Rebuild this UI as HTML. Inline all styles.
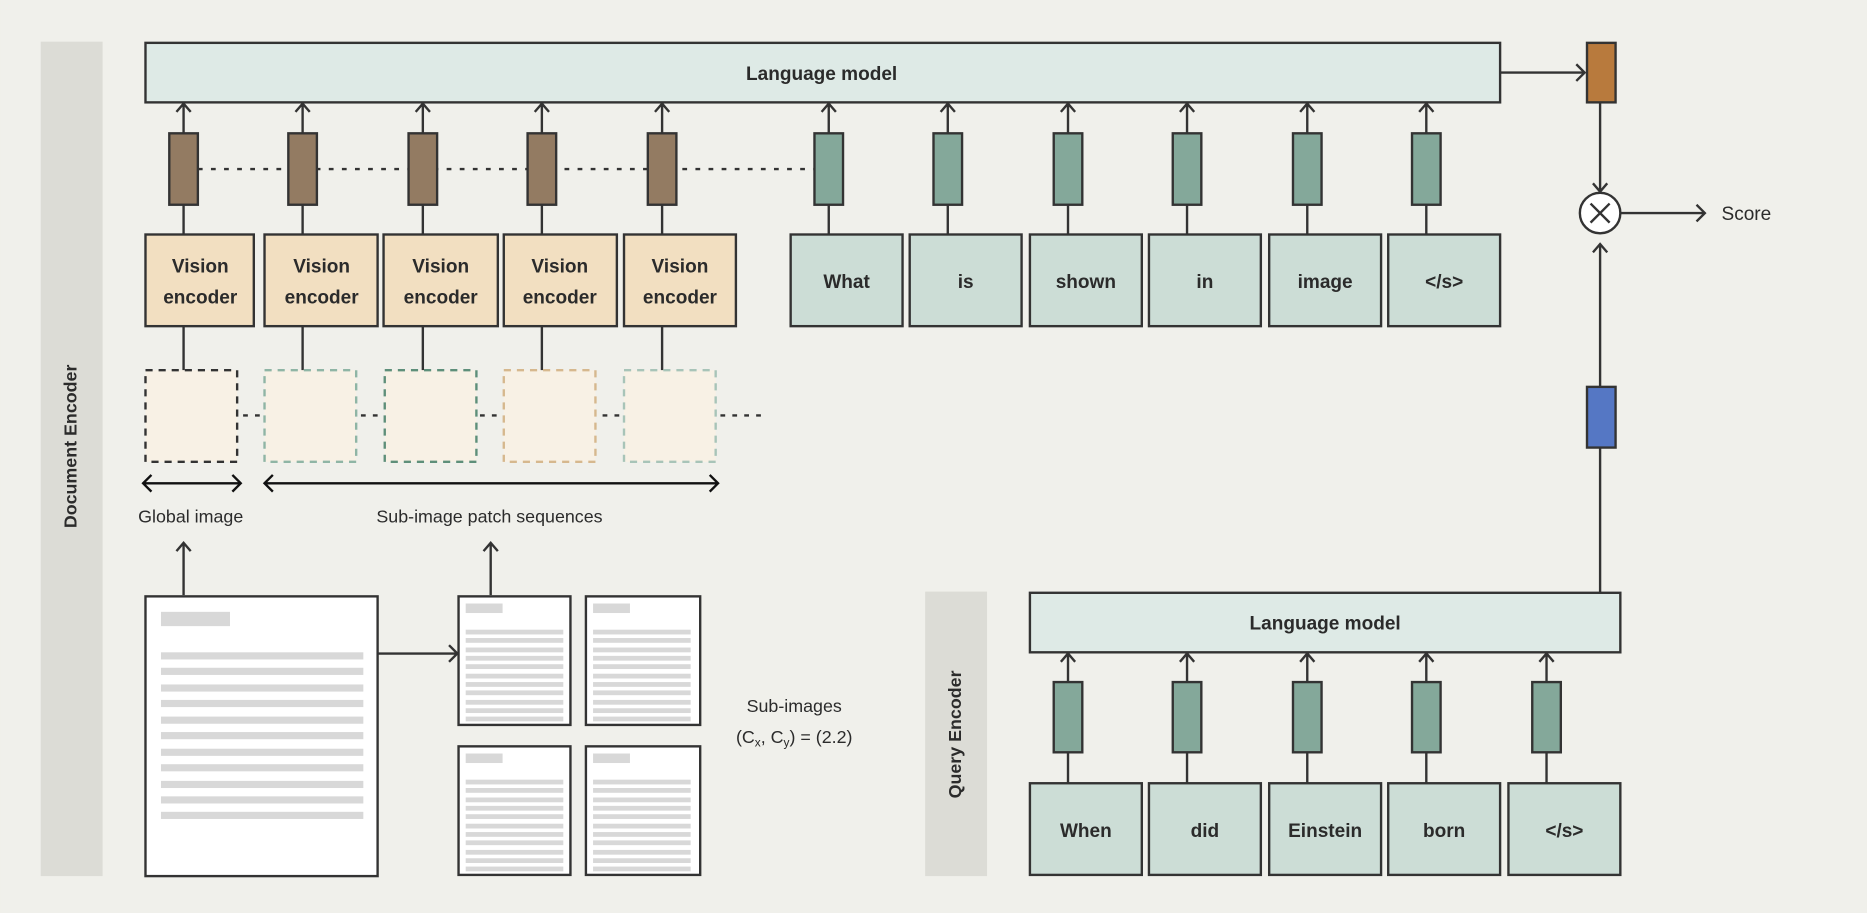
<!DOCTYPE html>
<html><head><meta charset="utf-8"><style>
html,body{margin:0;padding:0;background:#f0f0eb;}
svg{display:block;}
text{font-family:"Liberation Sans",sans-serif;fill:#2b2b2b;}
.b{font-weight:bold;}
</style></head><body>
<svg width="1867" height="913" viewBox="0 0 1568 767" xmlns="http://www.w3.org/2000/svg">
<rect width="1568" height="767" fill="#f0f0eb"/>
<g stroke="#333" stroke-width="2" fill="none">
<rect x="34" y="35" width="52" height="701" fill="#dcdcd6" stroke="none"/>
<rect x="777" y="497" width="52" height="239" fill="#dcdcd6" stroke="none"/>
<rect x="122" y="36" width="1138" height="50" fill="#deeae6"/>
<line x1="1260" y1="61" x2="1331" y2="61"/><polyline points="1324,54 1331,61 1324,68"/>
<rect x="1333" y="36" width="24" height="50" fill="#b87a3d"/>
<line x1="166" y1="142" x2="684" y2="142" stroke-dasharray="4,7"/>
<g fill="#937b62">
<rect x="142" y="112" width="24" height="60"/><rect x="242" y="112" width="24" height="60"/><rect x="343" y="112" width="24" height="60"/><rect x="443" y="112" width="24" height="60"/><rect x="544" y="112" width="24" height="60"/>
</g>
<g fill="#84a89a">
<rect x="684" y="112" width="24" height="60"/><rect x="784" y="112" width="24" height="60"/><rect x="885" y="112" width="24" height="60"/><rect x="985" y="112" width="24" height="60"/><rect x="1086" y="112" width="24" height="60"/><rect x="1186" y="112" width="24" height="60"/>
</g>
<g>
<path d="M154 112V87M148 94L154 87L160 94M154 172V197M154 274V311"/>
<path d="M254 112V87M248 94L254 87L260 94M254 172V197M254 274V311"/>
<path d="M355 112V87M349 94L355 87L361 94M355 172V197M355 274V311"/>
<path d="M455 112V87M449 94L455 87L461 94M455 172V197M455 274V311"/>
<path d="M556 112V87M550 94L556 87L562 94M556 172V197M556 274V311"/>
<path d="M696 112V87M690 94L696 87L702 94M696 172V197"/>
<path d="M796 112V87M790 94L796 87L802 94M796 172V197"/>
<path d="M897 112V87M891 94L897 87L903 94M897 172V197"/>
<path d="M997 112V87M991 94L997 87L1003 94M997 172V197"/>
<path d="M1098 112V87M1092 94L1098 87L1104 94M1098 172V197"/>
<path d="M1198 112V87M1192 94L1198 87L1204 94M1198 172V197"/>
</g>
<g fill="#f2dfc1">
<rect x="122" y="197" width="91" height="77"/><rect x="222" y="197" width="95" height="77"/><rect x="322" y="197" width="96" height="77"/><rect x="423" y="197" width="95" height="77"/><rect x="524" y="197" width="94" height="77"/>
</g>
<g fill="#ccddd6">
<rect x="664" y="197" width="94" height="77"/><rect x="764" y="197" width="94" height="77"/><rect x="865" y="197" width="94" height="77"/><rect x="965" y="197" width="94" height="77"/><rect x="1066" y="197" width="94" height="77"/><rect x="1166" y="197" width="94" height="77"/>
</g>
<g fill="#f8f1e5" stroke-dasharray="6,5">
<rect x="122" y="311" width="77" height="77" stroke="#333"/>
<rect x="222" y="311" width="77" height="77" stroke="#8fb5a5"/>
<rect x="323" y="311" width="77" height="77" stroke="#5e8f7a"/>
<rect x="423" y="311" width="77" height="77" stroke="#d6b88e"/>
<rect x="524" y="311" width="77" height="77" stroke="#a8c4b8"/>
</g>
<g stroke-dasharray="4,6">
<line x1="204" y1="349" x2="222" y2="349"/><line x1="303" y1="349" x2="323" y2="349"/><line x1="403" y1="349" x2="423" y2="349"/><line x1="506" y1="349" x2="524" y2="349"/><line x1="605" y1="349" x2="642" y2="349"/>
</g>
<path d="M121 406H201M127 399L120 406L127 413M195 399L202 406L195 413" stroke="#111"/>
<path d="M222 406H602M229 399L222 406L229 413M596 399L603 406L596 413" stroke="#111"/>
<path d="M154 500V456M148 463L154 456L160 463"/>
<path d="M412 500V456M406 463L412 456L418 463"/>
<rect x="122" y="501" width="195" height="235" fill="#fff"/>
<path d="M317 549H384M377 542L384 549L377 556"/>
<rect x="385" y="501" width="94" height="108" fill="#fff"/>
<rect x="492" y="501" width="96" height="108" fill="#fff"/>
<rect x="385" y="627" width="94" height="108" fill="#fff"/>
<rect x="492" y="627" width="96" height="108" fill="#fff"/>
<rect x="865" y="498" width="496" height="50" fill="#deeae6"/>
<g fill="#84a89a">
<rect x="885" y="573" width="24" height="59"/><rect x="985" y="573" width="24" height="59"/><rect x="1086" y="573" width="24" height="59"/><rect x="1186" y="573" width="24" height="59"/><rect x="1287" y="573" width="24" height="59"/>
</g>
<path d="M897 573V549M891 556L897 549L903 556M897 632V658"/>
<path d="M997 573V549M991 556L997 549L1003 556M997 632V658"/>
<path d="M1098 573V549M1092 556L1098 549L1104 556M1098 632V658"/>
<path d="M1198 573V549M1192 556L1198 549L1204 556M1198 632V658"/>
<path d="M1299 573V549M1293 556L1299 549L1305 556M1299 632V658"/>
<g fill="#ccddd6">
<rect x="865" y="658" width="94" height="77"/><rect x="965" y="658" width="94" height="77"/><rect x="1066" y="658" width="94" height="77"/><rect x="1166" y="658" width="94" height="77"/><rect x="1267" y="658" width="94" height="77"/>
</g>
<path d="M1344 498V376M1344 325V205M1338 212L1344 205L1350 212"/>
<rect x="1333" y="325" width="24" height="51" fill="#5577c4"/>
<path d="M1344 86V161M1338 154L1344 161L1350 154"/>
<circle cx="1344" cy="179" r="17" fill="#fff"/>
<path d="M1336 171L1352 187M1352 171L1336 187"/>
<path d="M1361 179H1432M1425 172L1432 179L1425 186"/>
</g>
<g fill="#d8d8d8">
<rect x="135" y="514" width="58" height="12"/>
<rect x="135" y="548" width="170" height="6"/><rect x="135" y="561" width="170" height="6"/><rect x="135" y="575" width="170" height="6"/><rect x="135" y="588" width="170" height="6"/><rect x="135" y="602" width="170" height="6"/><rect x="135" y="615" width="170" height="6"/><rect x="135" y="629" width="170" height="6"/><rect x="135" y="642" width="170" height="6"/><rect x="135" y="656" width="170" height="6"/><rect x="135" y="669" width="170" height="6"/><rect x="135" y="682" width="170" height="6"/>
</g>
<g id="sd" fill="#d8d8d8">
<rect x="391" y="507" width="31" height="8"/>
<rect x="391" y="529" width="82" height="4"/><rect x="391" y="536" width="82" height="4"/><rect x="391" y="544" width="82" height="4"/><rect x="391" y="551" width="82" height="4"/><rect x="391" y="558" width="82" height="4"/><rect x="391" y="566" width="82" height="4"/><rect x="391" y="573" width="82" height="4"/><rect x="391" y="580" width="82" height="4"/><rect x="391" y="588" width="82" height="4"/><rect x="391" y="595" width="82" height="4"/><rect x="391" y="602" width="82" height="4"/>
</g>
<use href="#sd" x="107"/>
<use href="#sd" y="126"/>
<use href="#sd" x="107" y="126"/>
<text x="60" y="375" class="b" font-size="15" text-anchor="middle" transform="rotate(-90 60 375)" dominant-baseline="middle">Document Encoder</text>
<text x="803" y="617" class="b" font-size="15" text-anchor="middle" transform="rotate(-90 803 617)" dominant-baseline="middle">Query Encoder</text>
<g class="b" font-size="16" text-anchor="middle">
<text x="690" y="67">Language model</text>
<text x="1113" y="529">Language model</text>
<text x="168" y="229">Vision</text><text x="168" y="255">encoder</text>
<text x="270" y="229">Vision</text><text x="270" y="255">encoder</text>
<text x="370" y="229">Vision</text><text x="370" y="255">encoder</text>
<text x="470" y="229">Vision</text><text x="470" y="255">encoder</text>
<text x="571" y="229">Vision</text><text x="571" y="255">encoder</text>
<text x="711" y="242">What</text><text x="811" y="242">is</text><text x="912" y="242">shown</text><text x="1012" y="242">in</text><text x="1113" y="242">image</text><text x="1213" y="242">&lt;/s&gt;</text>
<text x="912" y="703">When</text><text x="1012" y="703">did</text><text x="1113" y="703">Einstein</text><text x="1213" y="703">born</text><text x="1314" y="703">&lt;/s&gt;</text>
</g>
<g font-size="15" text-anchor="middle">
<text x="160" y="439">Global image</text>
<text x="411" y="439">Sub-image patch sequences</text>
<text x="667" y="598">Sub-images</text>
<text x="667" y="624">(C<tspan font-size="10" dy="3">x</tspan><tspan dy="-3">, C</tspan><tspan font-size="10" dy="3">y</tspan><tspan dy="-3">) = (2.2)</tspan></text>
</g>
<text x="1446" y="185" font-size="16">Score</text>
</svg>
</body></html>
